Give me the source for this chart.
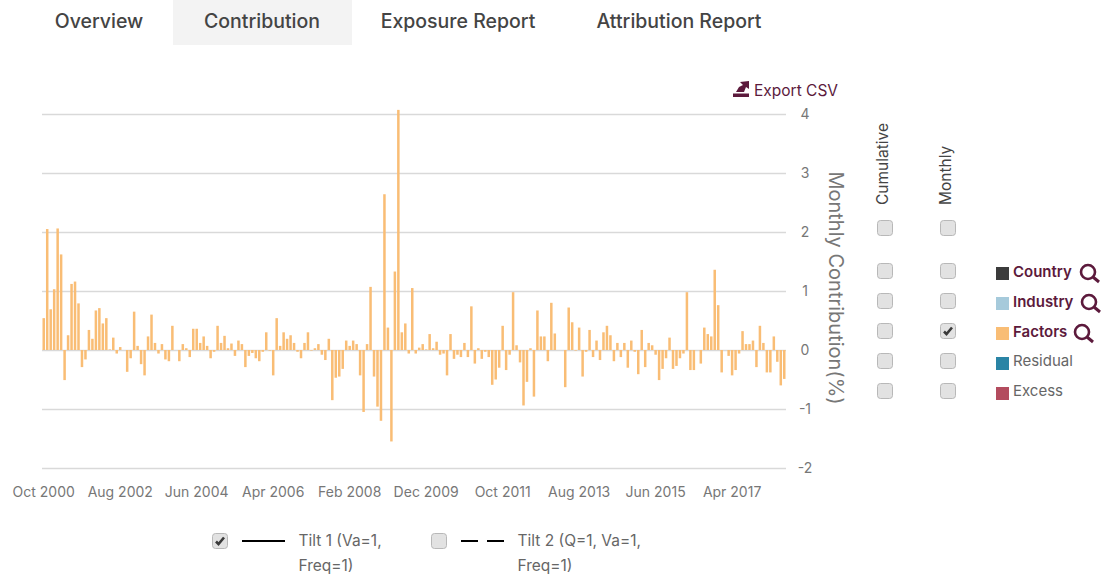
<!DOCTYPE html>
<html>
<head>
<meta charset="utf-8">
<script src="https://cdn.jsdelivr.net/npm/d3@7"></script>
<style>
  html, body { margin: 0; padding: 0; background: #fff; }
  svg { display: block; font-family: Inter, sans-serif; }
  .tab { fill: #444; font-size: 19.5px; font-weight: 500; }
  .x-axis text, .y-axis text { fill: #777; font-size: 14px; font-family: Inter, sans-serif; }
  .legend-text { fill: #666; font-size: 15.5px; }
</style>
</head>
<body>
<svg id="chart"></svg>
<script>
const chartSize = { width: 1110, height: 574 };
const margin = { left: 42, right: 324, top: 114, bottom: 106 };

const tabs = ["Overview", "Contribution", "Exposure Report", "Attribution Report"];
const tickLabels = ["Oct 2000", "Aug 2002", "Jun 2004", "Apr 2006", "Feb 2008", "Dec 2009", "Oct 2011", "Aug 2013", "Jun 2015", "Apr 2017"];
const yTicks = [-2, -1, 0, 1, 2, 3, 4];
const series = ["Country", "Industry", "Factors", "Residual", "Excess"];
const seriesColors = ["#3b3b3b", "#a6cadb", "#f9bd75", "#2a84a5", "#b34c5e"];
const seriesLinked = [true, true, true, false, false];
const columns = ["Cumulative", "Monthly"];
const tilts = ["Tilt 1 (Va=1,", "Tilt 2 (Q=1, Va=1,"];

// monthly contribution of Factors, Oct 2000 onwards
const factors = [
  0.54, 2.05, 0.69, 1.03, 2.06, 1.62, -0.51, 0.25, 1.12, 1.16,
  0.79, -0.29, -0.16, 0.34, 0.19, 0.67, 0.71, 0.45, 0.54, 0.01,
  0.21, -0.06, 0.05, 0, -0.37, -0.14, 0.65, 0.07, -0.24, -0.43,
  0.23, 0.60, 0.12, -0.06, 0.10, -0.16, -0.19, 0.41, 0, -0.19,
  0.10, 0.03, -0.12, 0.36, 0.36, 0.12, 0.23, 0.07, -0.14, -0.03,
  0.41, 0.12, 0.24, 0.03, 0.11, -0.10, 0.16, 0.10, -0.29, -0.10,
  -0.05, -0.14, -0.19, -0.03, 0.30, -0.01, -0.43, 0.54, 0.07, 0.30,
  0.19, 0.25, 0.12, -0.03, -0.14, 0.12, 0.30, -0.01, 0.03, 0.10,
  -0.08, -0.17, 0.19, -0.85, -0.47, -0.45, -0.32, 0.16, 0.07, 0.16,
  0.10, -0.43, -1.05, 0.10, 1.07, -0.45, -0.96, -1.20, 2.64, 0.38,
  -1.55, 1.33, 4.07, 0.30, 0.45, -0.06, 1.05, -0.06, 0.04, 0.10,
  0.01, 0.27, 0.03, 0.14, -0.08, -0.06, -0.43, 0.27, -0.15, -0.08,
  -0.12, 0.12, -0.12, 0.74, -0.23, 0.03, -0.15, -0.03, -0.12, -0.59,
  -0.50, -0.30, 0.41, -0.34, -0.08, 0.98, 0.08, -0.21, -0.94, -0.54,
  0.03, -0.79, 0.67, 0.23, 0.23, -0.19, 0.80, 0.28, 0, 0,
  -0.63, 0.72, 0.47, -0.01, 0.38, -0.45, -0.03, 0.34, -0.12, 0.16,
  -0.17, 0.30, 0.41, 0.25, -0.19, 0.12, -0.12, 0.12, -0.30, 0.16,
  -0.03, -0.41, 0.34, -0.29, 0.12, 0.08, -0.08, -0.51, -0.32, -0.14,
  0.21, -0.32, -0.27, -0.14, -0.06, 0.98, -0.34, -0.34, 0, -0.23,
  0.38, 0.27, 0.23, 1.36, 0.76, -0.38, 0, -0.10, -0.43, -0.34,
  -0.06, 0.32, 0.10, 0.10, 0.16, -0.29, 0.41, 0.12, -0.38, -0.38,
  0.23, -0.20, -0.60, -0.49
];

const width = chartSize.width - margin.left - margin.right;
const height = chartSize.height - margin.top - margin.bottom;
const linkColor = "#5c1a3c";

const monthFormat = d3.timeFormat("%b %Y");
const months = d3.timeMonth.range(new Date(2000, 9, 1), new Date(2018, 7, 1));

const svg = d3
  .select("#chart")
  .attr("width", chartSize.width)
  .attr("height", chartSize.height);

const drawCheckbox = (parent, cx, cy, checked) => {
  const g = parent.append("g").attr("transform", `translate(${cx},${cy})`);
  g.append("rect")
    .attr("x", -7.5)
    .attr("y", -7.5)
    .attr("width", 15)
    .attr("height", 15)
    .attr("rx", 3)
    .attr("fill", "#e2e2e2")
    .attr("stroke", "#b8b8b8")
    .attr("stroke-width", 1);
  if (checked) {
    g.append("path")
      .attr("d", "M-4,0.5 L-1.5,3 L4,-3.5")
      .attr("fill", "none")
      .attr("stroke", "#3a3a3a")
      .attr("stroke-width", 2.6);
  }
};

const drawMagnifier = (parent, cx, cy) => {
  parent.append("circle")
    .attr("cx", cx)
    .attr("cy", cy)
    .attr("r", 7)
    .attr("fill", "none")
    .attr("stroke", linkColor)
    .attr("stroke-width", 2.6);
  parent.append("line")
    .attr("x1", cx + 5)
    .attr("y1", cy + 5)
    .attr("x2", cx + 11)
    .attr("y2", cy + 10)
    .attr("stroke", linkColor)
    .attr("stroke-width", 3);
};

const drawTabs = () => {
  svg.append("rect")
    .attr("x", 173)
    .attr("y", 0)
    .attr("width", 179)
    .attr("height", 45)
    .attr("fill", "#f3f3f3");

  const tabX = [99, 262, 458, 679];
  svg.selectAll(".tab")
    .data(tabs)
    .join("text")
    .attr("class", "tab")
    .attr("x", (d, i) => tabX[i])
    .attr("y", 28)
    .attr("text-anchor", "middle")
    .text(d => d);
};

const drawExport = () => {
  const g = svg.append("g").attr("class", "export");
  g.append("rect")
    .attr("x", 733)
    .attr("y", 93.5)
    .attr("width", 16)
    .attr("height", 3.5)
    .attr("fill", linkColor);
  g.append("path")
    .attr("d", "M736,92 L739,87 L743,85 L740,82 L749,81 L749,89 L746,87 L744,92 Z")
    .attr("fill", linkColor);
  g.append("text")
    .attr("x", 754)
    .attr("y", 96)
    .attr("fill", linkColor)
    .attr("font-size", 15.5)
    .text("Export CSV");
};

const drawBars = () => {
  const x = d3
    .scaleBand()
    .domain(months)
    .range([margin.left, margin.left + width])
    .paddingInner(0.28)
    .paddingOuter(0.14);

  const y = d3
    .scaleLinear()
    .domain([-2, 4])
    .range([margin.top + height, margin.top]);

  const yAxis = d3
    .axisRight(y)
    .tickValues(yTicks)
    .tickSize(-width)
    .tickFormat(d3.format("d"));

  svg.append("g")
    .attr("class", "y-axis")
    .attr("transform", `translate(${margin.left + width},0)`)
    .call(yAxis)
    .call(g => g.select(".domain").remove())
    .call(g => g.selectAll("line").attr("stroke", "#d9d9d9").attr("stroke-width", 1.5))
    .call(g => g.selectAll("text").attr("x", 19).attr("text-anchor", "middle").text(d => (d < 0 ? `-${-d}` : d)));

  const xAxis = d3
    .axisBottom(x)
    .tickValues(months.filter(m => tickLabels.includes(monthFormat(m))))
    .tickSize(0)
    .tickFormat(monthFormat);

  svg.append("g")
    .attr("class", "x-axis")
    .attr("transform", `translate(0,${margin.top + height + 16})`)
    .call(xAxis)
    .call(g => g.select(".domain").remove());

  svg.append("g")
    .attr("class", "bars")
    .selectAll("rect")
    .data(factors)
    .join("rect")
    .attr("x", (d, i) => x(months[i]))
    .attr("y", d => y(Math.max(d, 0)))
    .attr("width", x.bandwidth())
    .attr("height", d => Math.abs(y(d) - y(0)))
    .attr("fill", seriesColors[2]);

  svg.append("text")
    .attr("class", "y-axis-label")
    .attr("transform", `translate(829,288) rotate(90)`)
    .attr("text-anchor", "middle")
    .attr("fill", "#777")
    .attr("font-size", 20)
    .text("Monthly Contribution(%)");
};

const drawControls = () => {
  const colX = [885, 948];
  const rowY = [271, 301, 331, 361, 391];
  const controls = svg.append("g").attr("class", "controls");

  columns.forEach((name, c) => {
    controls.append("text")
      .attr("transform", `translate(${colX[c] + 3},205) rotate(-90)`)
      .attr("fill", "#444")
      .attr("font-size", 15.5)
      .text(name);
    drawCheckbox(controls, colX[c], 228, false);
    series.forEach((s, r) => {
      drawCheckbox(controls, colX[c], rowY[r], name === "Monthly" && s === "Factors");
    });
  });

  const magnifierX = [1088, 1089, 1082];
  series.forEach((s, r) => {
    controls.append("rect")
      .attr("x", 996)
      .attr("y", rowY[r] - 4)
      .attr("width", 13)
      .attr("height", 13)
      .attr("fill", seriesColors[r]);
    controls.append("text")
      .attr("x", 1013)
      .attr("y", rowY[r] + (seriesLinked[r] ? 6 : 5))
      .attr("fill", seriesLinked[r] ? linkColor : "#666")
      .attr("font-size", 15)
      .attr("font-weight", seriesLinked[r] ? 600 : 400)
      .text(s);
    if (seriesLinked[r]) drawMagnifier(controls, magnifierX[r], rowY[r] + 1);
  });
};

const drawTilts = () => {
  const g = svg.append("g").attr("class", "tilts");
  const boxX = [220, 439];
  const dashes = [null, "17,9"];

  tilts.forEach((name, i) => {
    drawCheckbox(g, boxX[i], 541, i === 0);
    g.append("line")
      .attr("x1", boxX[i] + 22)
      .attr("x2", boxX[i] + 65)
      .attr("y1", 541)
      .attr("y2", 541)
      .attr("stroke", "#000")
      .attr("stroke-width", 2)
      .attr("stroke-dasharray", dashes[i]);
    g.append("text")
      .attr("class", "legend-text")
      .attr("x", boxX[i] + 78.5)
      .attr("y", 546)
      .text(name);
    g.append("text")
      .attr("class", "legend-text")
      .attr("x", boxX[i] + 78.5)
      .attr("y", 571)
      .text("Freq=1)");
  });
};

drawTabs();
drawExport();
drawBars();
drawControls();
drawTilts();
</script>
</body>
</html>
